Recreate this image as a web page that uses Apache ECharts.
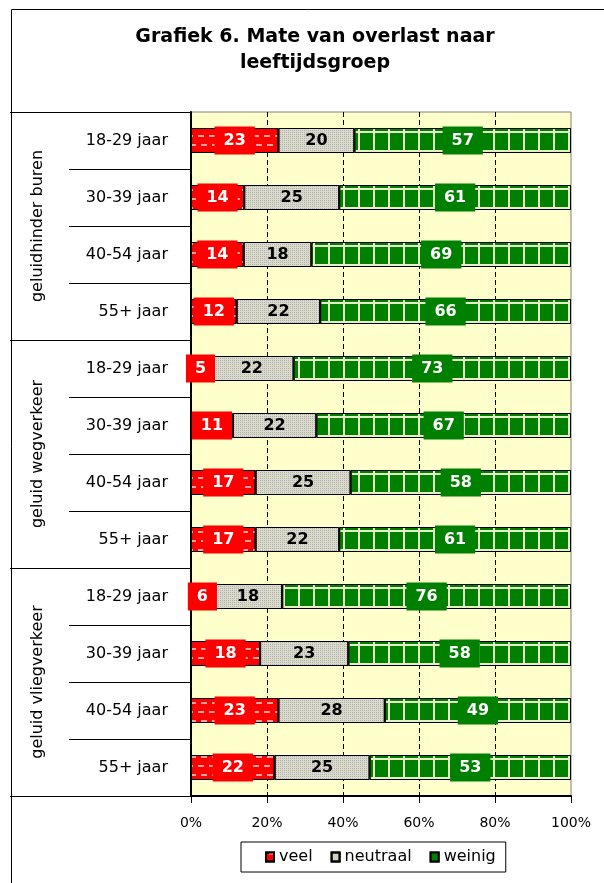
<!DOCTYPE html>
<html>
<head>
<meta charset="utf-8">
<script src="https://cdn.jsdelivr.net/npm/echarts@6/dist/echarts.min.js"></script>
<style>
  html, body { margin: 0; padding: 0; background: #fff; }
  #chart { width: 604px; height: 883px; }
</style>
</head>
<body>
<div id="chart"></div>
<script>
// categories
const sources = ['geluidhinder buren', 'geluid wegverkeer', 'geluid vliegverkeer'];
const ageGroups = ['18-29 jaar', '30-39 jaar', '40-54 jaar', '55+ jaar'];
const xTickLabels = ['0%', '20%', '40%', '60%', '80%', '100%'];

// percentages per row, top to bottom
const veel     = [23, 14, 14, 12,  5, 11, 17, 17,  6, 18, 23, 22];
const neutraal = [20, 25, 18, 22, 22, 22, 25, 22, 18, 23, 28, 25];
const weinig   = [57, 61, 69, 66, 73, 67, 58, 61, 76, 58, 49, 53];

const FONT = 'DejaVu Sans';

// one row per source x age group, unique keys for the category axis
const rows = [];
sources.forEach(s => ageGroups.forEach(a => rows.push(s + '|' + a)));

// 100% stacked: scale each row to its total
const totals = veel.map((v, i) => v + neutraal[i] + weinig[i]);
const share = arr => arr.map((v, i) => v / totals[i] * 100);

const myChart = echarts.init(document.getElementById('chart'));

function makeSeries(name, values, color, decal, label) {
  return {
    name,
    type: 'bar',
    stack: 'total',
    barWidth: 25,
    data: share(values),
    itemStyle: { color, borderColor: '#000', borderWidth: 1, decal },
    label: Object.assign({
      show: true,
      position: 'inside',
      fontFamily: FONT,
      fontSize: 16,
      fontWeight: 'bold',
      formatter: p => values[p.dataIndex]
    }, label),
    emphasis: { disabled: true }
  };
}

const option = {
  animation: false,
  textStyle: { fontFamily: FONT },
  title: {
    text: 'Grafiek 6. Mate van overlast naar\nleeftijdsgroep',
    left: 310,
    top: 19,
    textAlign: 'center',
    textStyle: { fontFamily: FONT, fontSize: 19, fontWeight: 'bold', color: '#000', lineHeight: 26 }
  },
  graphic: [{
    type: 'rect',
    silent: true,
    z: -1,
    shape: { x: 11.5, y: 9.5, width: 640, height: 920 },
    style: { fill: null, stroke: '#000', lineWidth: 1 }
  }],
  legend: {
    left: 241,
    top: 842,
    orient: 'horizontal',
    padding: [7, 10, 7, 24],
    itemGap: 18,
    itemWidth: 8,
    itemHeight: 9,
    borderColor: '#000',
    borderWidth: 1,
    backgroundColor: '#fff',
    icon: 'rect',
    selectedMode: false,
    textStyle: { fontFamily: FONT, fontSize: 16, color: '#000' },
    data: ['veel', 'neutraal', 'weinig']
  },
  grid: {
    left: 191,
    right: 33,
    top: 112,
    bottom: 87,
    show: true,
    backgroundColor: '#FFFFCC',
    borderColor: '#808080',
    borderWidth: 1
  },
  xAxis: {
    type: 'value',
    min: 0,
    max: 100,
    interval: 20,
    axisLine: { show: true, lineStyle: { color: '#000', width: 2 } },
    axisTick: { show: true, length: 7, lineStyle: { color: '#000' } },
    axisLabel: {
      margin: 20,
      fontFamily: FONT,
      fontSize: 14,
      color: '#000',
      formatter: (v) => xTickLabels[Math.round(v / 20)]
    },
    splitLine: {
      show: true,
      showMinLine: false,
      showMaxLine: false,
      lineStyle: { color: '#000', type: [5, 3], width: 1 }
    }
  },
  yAxis: [{
    type: 'category',
    data: rows,
    inverse: true,
    position: 'left',
    axisLine: { show: true, lineStyle: { color: '#000', width: 2 } },
    axisTick: { show: true, interval: 0, length: 122, lineStyle: { color: '#000', width: 1 } },
    axisLabel: {
      interval: 0,
      margin: 23,
      fontFamily: FONT,
      fontSize: 16,
      color: '#000',
      formatter: v => v.split('|')[1]
    }
  }, {
    type: 'category',
    data: sources,
    inverse: true,
    position: 'left',
    offset: 0,
    axisLine: { show: false },
    axisTick: { show: true, interval: 0, length: 181, lineStyle: { color: '#000', width: 1 } },
    axisLabel: {
      interval: 0,
      rotate: 90,
      margin: 145,
      fontFamily: FONT,
      fontSize: 16,
      color: '#000'
    }
  }],
  series: [
    makeSeries('veel', veel, '#FF0000', {
      symbol: 'rect', symbolSize: 1, color: 'rgba(255,190,190,0.85)',
      dashArrayX: [[6, 5], [0, 3, 6, 2]], dashArrayY: [2, 7]
    }, { color: '#fff', backgroundColor: '#FF0000', padding: [6, 9] }),
    makeSeries('neutraal', neutraal, '#DADACE', {
      symbol: 'rect', symbolSize: 1, color: 'rgba(150,150,140,0.6)',
      dashArrayX: [1, 1], dashArrayY: [1, 1]
    }, { color: '#000' }),
    makeSeries('weinig', weinig, '#E6F0C4', {
      symbol: 'rect', symbolSize: 1, color: '#008000',
      dashArrayX: [13, 2], dashArrayY: [17, 2]
    }, { color: '#fff', backgroundColor: '#008000', padding: [6, 9] })
  ]
};

option && myChart.setOption(option);
</script>
</body>
</html>
